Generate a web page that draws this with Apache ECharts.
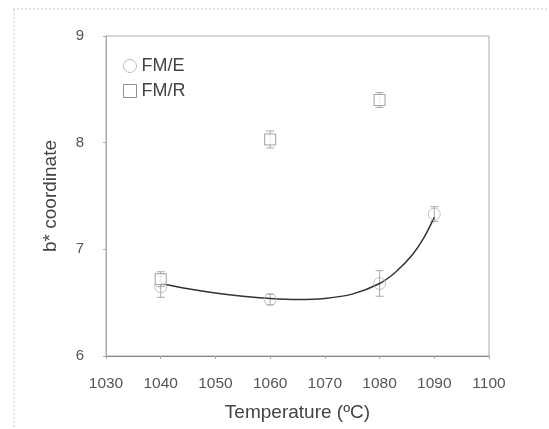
<!DOCTYPE html>
<html>
<head>
<meta charset="utf-8">
<script src="https://cdn.jsdelivr.net/npm/echarts@6/dist/echarts.min.js"></script>
<style>
  html, body { margin: 0; padding: 0; background: #fff; }
  #chart { width: 549px; height: 429px; }
</style>
</head>
<body>
<div id="chart"></div>
<script>
// Firing temperature (°C) and b* colour coordinate of the two glaze series
const temperaturesE = [1040, 1060, 1080, 1090];
const bStarE = [6.65, 6.53, 6.68, 7.33];
const errE = [0.10, 0.05, 0.12, 0.07];

const temperaturesR = [1040, 1060, 1080];
const bStarR = [6.72, 8.03, 8.40];
const errR = [0.07, 0.08, 0.07];

// Trend curve through the FM/E series
const trendT = [1040, 1045, 1050, 1055, 1060, 1065, 1070, 1075, 1080, 1083, 1086, 1088, 1090];
const trendB = [6.68, 6.63, 6.59, 6.56, 6.54, 6.53, 6.54, 6.58, 6.68, 6.79, 6.95, 7.10, 7.30];

const xTicks = [1030, 1040, 1050, 1060, 1070, 1080, 1090, 1100];
const yTicks = [6, 7, 8, 9];

const FONT = '"Liberation Sans", Arial, sans-serif';
const TEXT = '#555';

function pairs(xs, ys) { return xs.map((x, i) => [x, ys[i]]); }
function errRows(xs, ys, es) { return xs.map((x, i) => [x, ys[i] - es[i], ys[i] + es[i]]); }

function errorBar(color) {
  return function (params, api) {
    const top = api.coord([api.value(0), api.value(2)]);
    const bot = api.coord([api.value(0), api.value(1)]);
    const w = 4;
    const style = { stroke: color, lineWidth: 1, fill: null };
    return {
      type: 'group',
      children: [
        { type: 'line', shape: { x1: top[0], y1: top[1], x2: bot[0], y2: bot[1] }, style },
        { type: 'line', shape: { x1: top[0] - w, y1: top[1], x2: top[0] + w, y2: top[1] }, style },
        { type: 'line', shape: { x1: bot[0] - w, y1: bot[1], x2: bot[0] + w, y2: bot[1] }, style }
      ]
    };
  };
}

const chart = echarts.init(document.getElementById('chart'), null, { renderer: 'canvas' });
chart.setOption({
  backgroundColor: '#fff',
  animation: false,
  graphic: [
    { type: 'line', shape: { x1: 13, y1: 9, x2: 548, y2: 9 }, style: { stroke: '#c8c8c8', lineWidth: 1, lineDash: [2, 2] } },
    { type: 'line', shape: { x1: 14, y1: 9, x2: 14, y2: 429 }, style: { stroke: '#c8c8c8', lineWidth: 1, lineDash: [2, 2] } }
  ],
  grid: {
    left: 106, right: 60, top: 36, bottom: 73,
    show: true, borderColor: '#aaa', borderWidth: 1, backgroundColor: '#fff'
  },
  legend: {
    orient: 'vertical', left: 118, top: 52, itemGap: 7,
    itemWidth: 13, itemHeight: 13,
    textStyle: { fontFamily: FONT, fontSize: 18, color: '#444' },
    data: [
      { name: 'FM/E', icon: 'circle', itemStyle: { color: '#fff', borderColor: '#aaa', borderWidth: 1 } },
      { name: 'FM/R', icon: 'rect', itemStyle: { color: '#fff', borderColor: '#777', borderWidth: 1 } }
    ]
  },
  xAxis: {
    type: 'value', min: xTicks[0], max: xTicks[xTicks.length - 1], interval: 10,
    name: 'Temperature (ºC)', nameLocation: 'middle', nameGap: 47,
    nameTextStyle: { fontFamily: FONT, fontSize: 19, color: '#444' },
    axisLine: { lineStyle: { color: '#888' } },
    axisTick: { show: true, length: 3, lineStyle: { color: '#aaa' } },
    axisLabel: { fontFamily: FONT, fontSize: 15.5, color: TEXT, margin: 20, formatter: v => String(v) },
    splitLine: { show: false }
  },
  yAxis: {
    type: 'value', min: yTicks[0], max: yTicks[yTicks.length - 1], interval: 1,
    name: 'b* coordinate', nameLocation: 'middle', nameGap: 46,
    nameTextStyle: { fontFamily: FONT, fontSize: 19, color: '#444' },
    axisLine: { show: true, lineStyle: { color: '#aaa' } },
    axisTick: { show: true, length: 3, lineStyle: { color: '#aaa' } },
    axisLabel: { fontFamily: FONT, fontSize: 15, color: TEXT, margin: 22, formatter: v => String(v) },
    splitLine: { show: false }
  },
  series: [
    {
      name: 'trend', type: 'line', smooth: 0.3, showSymbol: false, silent: true,
      data: pairs(trendT, trendB),
      lineStyle: { color: '#333', width: 1.5 }, z: 3
    },
    {
      name: 'FM/E err', type: 'custom', renderItem: errorBar('#aaa'),
      data: errRows(temperaturesE, bStarE, errE), z: 2
    },
    {
      name: 'FM/R err', type: 'custom', renderItem: errorBar('#aaa'),
      data: errRows(temperaturesR, bStarR, errR), z: 2
    },
    {
      name: 'FM/E', type: 'scatter', symbol: 'circle', symbolSize: 12,
      data: pairs(temperaturesE, bStarE),
      itemStyle: { color: 'rgba(255,255,255,0)', borderColor: '#b0b0b0', borderWidth: 1 }, z: 4
    },
    {
      name: 'FM/R', type: 'scatter', symbol: 'rect', symbolSize: 11,
      data: pairs(temperaturesR, bStarR),
      itemStyle: { color: '#fff', borderColor: '#888', borderWidth: 1 }, z: 4
    }
  ]
});
</script>
</body>
</html>
